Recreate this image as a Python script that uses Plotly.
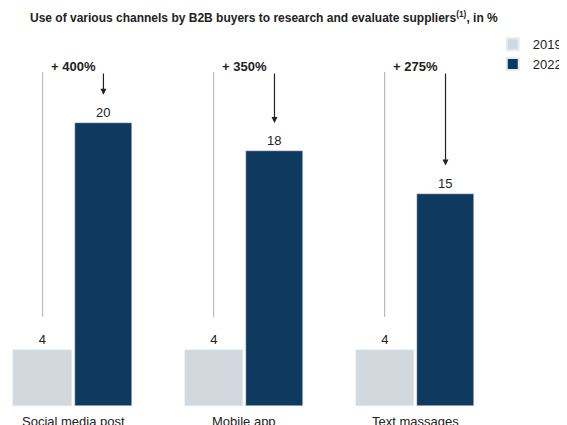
import plotly.graph_objs as go

categories = ["Social media post", "Mobile app", "Text massages"]
values_2019 = [4, 4, 4]
values_2022 = [20, 18, 15]
growth = ["+ 400%", "+ 350%", "+ 275%"]

pos = list(range(len(categories)))
off = 0.178
font = "Liberation Sans, Arial, sans-serif"

fig = go.Figure()
fig.add_trace(go.Bar(x=[p - off for p in pos], y=values_2019, name="2019", width=0.34,
                     marker_color="#d1d9df", text=values_2019, textposition="outside",
                     textfont=dict(size=13, color="#222"), cliponaxis=False))
fig.add_trace(go.Bar(x=[p + off for p in pos], y=values_2022, name="2022", width=0.33,
                     marker_color="#0e3a5f", text=values_2022, textposition="outside",
                     textfont=dict(size=13, color="#222"), cliponaxis=False))

for p, v19, v22, g, c in zip(pos, values_2019, values_2022, growth, categories):
    # grey line up from 2019 label, arrow down to 2022 label
    fig.add_shape(type="line", x0=p - off, x1=p - off, y0=v19 + 2.3, y1=23.6,
                  line=dict(color="#bbbbbb", width=1.2))
    fig.add_annotation(x=p + off, y=v22 + 2.0, ax=p + off, ay=23.6, xref="x", yref="y",
                       axref="x", ayref="y", text="", showarrow=True, arrowhead=2,
                       arrowsize=1, arrowwidth=1.2, arrowcolor="#222")
    fig.add_annotation(x=p, y=24.0, text="<b>%s</b>" % g, showarrow=False,
                       font=dict(size=13, color="#222"))
    fig.add_annotation(x=p, y=-1.1, text=c, showarrow=False,
                       font=dict(size=13, color="#222"))

fig.add_annotation(xref="paper", yref="paper", x=0.035, y=0.958, xanchor="left", yshift=19,
                   text="<b>Use of various channels by B2B buyers to research and evaluate suppliers<sup>(1)</sup>, in %</b>",
                   showarrow=False, font=dict(size=12, color="#222"))

fig.update_layout(
    width=567, height=425, margin=dict(l=0, r=0, t=0, b=0),
    plot_bgcolor="white", paper_bgcolor="white", bargap=0,
    font=dict(family=font),
    xaxis=dict(range=[-0.38, 2.935], visible=False),
    yaxis=dict(range=[-1.9, 28.13], visible=False),
    legend=dict(x=0.855, y=0.95, xanchor="left", yanchor="top",
                font=dict(size=13, color="#222"), itemsizing="constant",
                tracegroupgap=6),
)
fig.write_html("out.html")
